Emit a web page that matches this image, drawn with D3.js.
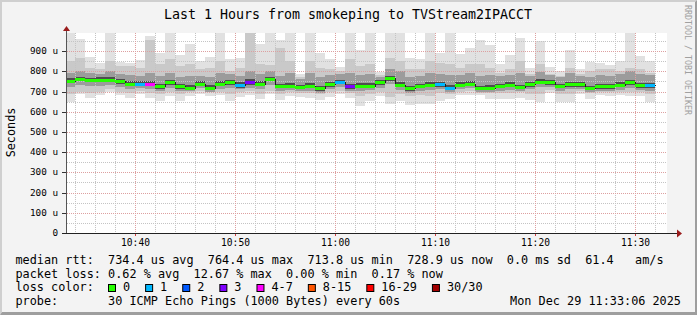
<!DOCTYPE html>
<html>
<head>
<meta charset="utf-8">
<script src="https://cdn.jsdelivr.net/npm/d3@7"></script>
<style>
  body { margin: 0; background: #f3f3f3; }
  svg text { font-family: "DejaVu Sans Mono", monospace; white-space: pre; }
</style>
</head>
<body>
<svg id="chart" width="697" height="315"></svg>
<script>
// one sample per minute, first one starts 10:33, values in microseconds
var firstMinute = "2025-12-29T10:33:00";
var median  = [753,761,758,758,758,751,739,739,739,726,746,726,720,739,720,739,746,731,746,739,761,728,729,723,728,716,736,747,726,728,729,746,766,733,716,728,733,736,720,733,739,718,720,728,733,723,736,749,746,728,736,736,718,726,726,733,747,731,731];
var pingMax = [1010,962,873,840,1010,846,840,855,975,893,1010,880,937,852,873,1010,860,865,1010,937,1010,955,1010,785,1010,893,860,822,1010,904,1010,797,1010,1010,865,860,1010,893,1010,885,918,955,931,835,882,963,815,951,824,802,904,810,848,843,832,852,1010,878,852];
var pingHi1 = [852,868,819,810,852,827,827,819,955,835,860,827,835,810,819,852,802,819,990,835,830,918,852,770,852,819,810,802,860,827,835,782,868,852,810,810,852,843,835,819,835,835,819,794,810,852,785,835,785,777,819,785,802,810,810,802,819,810,794];
var pingHi2 = [790,800,790,785,800,785,780,775,790,775,790,770,775,775,770,790,785,775,800,785,800,775,790,760,790,770,780,785,790,780,785,770,810,800,770,775,790,785,780,780,790,775,780,775,780,790,775,795,780,770,790,775,770,780,775,785,800,785,780];
var pingHi3 = [765,772,768,770,770,762,750,752,752,740,758,738,733,750,732,752,758,745,760,752,772,740,742,735,742,728,748,758,740,742,742,758,778,746,728,740,745,748,733,745,752,730,733,740,745,735,748,760,758,740,748,748,730,738,738,745,758,742,744];
var pingLo3 = [742,750,746,746,748,740,728,728,726,714,734,714,708,728,708,727,734,720,734,727,750,716,717,711,716,704,724,736,714,716,717,734,754,721,704,716,721,724,708,721,727,706,708,716,721,711,724,737,734,716,724,724,706,714,714,721,735,719,719];
var pingLo2 = [725,735,730,728,735,725,715,718,712,705,720,705,705,718,700,715,718,712,720,715,735,705,708,702,705,695,712,722,705,705,708,720,740,710,695,705,710,715,700,712,718,700,700,705,710,702,712,725,722,705,712,715,698,705,705,710,720,708,705];
var pingLo1 = [690,700,695,700,712,700,695,705,695,690,700,690,698,705,700,700,690,698,705,690,705,690,700,695,695,688,700,705,695,680,690,700,675,690,678,685,680,695,690,700,705,695,695,695,695,700,690,690,710,690,690,705,695,700,700,700,700,700,690];
var pingMin = [650,686,670,681,700,681,670,690,670,653,680,653,680,686,678,681,653,673,681,661,686,656,676,673,670,656,673,686,670,627,653,676,637,653,632,640,637,653,661,681,681,684,661,661,665,670,656,650,695,650,650,686,661,681,676,681,676,676,650];
// lost pings out of 30
var loss    = [0,0,0,0,0,0,0,1,4,0,0,0,0,0,0,0,0,1,3,0,0,0,0,0,0,0,0,1,3,0,0,0,0,0,0,0,0,1,1,0,0,0,0,0,0,0,0,0,0,0,0,0,0,0,0,0,0,0,1];

var lossLabels = ["0","1","2","3","4-7","8-15","16-29","30/30"];
var lossColors = ["#26ff00","#00b8ff","#0059ff","#7e00ff","#ff00ff","#ff5500","#ff0000","#a10000"];
var yTicks = [0,100,200,300,400,500,600,700,800,900];

var title = "Last 1 Hours from smokeping to TVStream2IPACCT";
var legendRows = [
  "median rtt:  734.4 us avg  764.4 us max  713.8 us min  728.9 us now  0.0 ms sd  61.4   am/s",
  "packet loss: 0.62 % avg  12.67 % max  0.00 % min  0.17 % now",
  "loss color:",
  "probe:       30 ICMP Echo Pings (1000 Bytes) every 60s"
];
var stamp = "Mon Dec 29 11:33:06 2025";

var W = 697, H = 315;
var pLeft = 67, pRight = 667, pTop = 33, pBottom = 233;

var svg = d3.select("#chart");

// background + rrdtool style shading
svg.append("rect").attr("width", W).attr("height", H).attr("fill", "#f3f3f3");
svg.append("path").attr("d", "M0,0H697L695,2H2V312L0,315Z").attr("fill", "#cfcfcf");
svg.append("path").attr("d", "M697,0V315H0L2,312H695V2Z").attr("fill", "#9e9e9e");
svg.append("rect").attr("x", pLeft).attr("y", pTop).attr("width", pRight - pLeft).attr("height", pBottom - pTop).attr("fill", "#fff");

var t0 = new Date("2025-12-29T10:33:10"), t1 = new Date("2025-12-29T11:33:10");
var x = d3.scaleTime().domain([t0, t1]).rangeRound([pLeft, pRight]);
var y = d3.scaleLinear().domain([0, 990]).rangeRound([pBottom, pTop]);

var start = new Date(firstMinute);
var rows = median.map(function(m, i) {
  return {
    t: d3.timeMinute.offset(start, i),
    t2: d3.timeMinute.offset(start, i + 1),
    med: m, loss: loss[i],
    max: pingMax[i], hi1: pingHi1[i], hi2: pingHi2[i], hi3: pingHi3[i],
    lo3: pingLo3[i], lo2: pingLo2[i], lo1: pingLo1[i], min: pingMin[i]
  };
});

svg.append("clipPath").attr("id", "plot").append("rect")
  .attr("x", pLeft).attr("y", pTop).attr("width", pRight - pLeft).attr("height", pBottom - pTop);

var g = svg.append("g").attr("clip-path", "url(#plot)");

// smoke, outer to inner
var bands = [
  { lo: "min", hi: "max", color: "#e1e1e1" },
  { lo: "lo1", hi: "hi1", color: "#c9c9c9" },
  { lo: "lo2", hi: "hi2", color: "#9c9c9c" },
  { lo: "lo3", hi: "hi3", color: "#4e4e4e" }
];
bands.forEach(function(b) {
  g.append("g").selectAll("rect")
    .data(rows)
    .enter().append("rect")
    .attr("x", function(d) { return x(d.t); })
    .attr("width", function(d) { return x(d.t2) - x(d.t); })
    .attr("y", function(d) { return y(d[b.hi]); })
    .attr("height", function(d) { return y(d[b.lo]) - y(d[b.hi]); })
    .attr("fill", b.color)
    .attr("shape-rendering", "crispEdges");
});

// grid
var minorX = d3.timeMinute.every(2).range(t0, t1).filter(function(d) { return d.getMinutes() % 10 != 0; });
var majorX = d3.timeMinute.every(10).range(t0, t1);
var minorY = d3.range(50, 990, 100);
var majorY = d3.range(100, 990, 100);

function vlines(data, color) {
  g.append("g").selectAll("line").data(data).enter().append("line")
    .attr("x1", function(d) { return x(d) + 0.5; }).attr("x2", function(d) { return x(d) + 0.5; })
    .attr("y1", pTop).attr("y2", pBottom)
    .attr("stroke", color).attr("stroke-dasharray", "1,1");
}
function hlines(data, color) {
  g.append("g").selectAll("line").data(data).enter().append("line")
    .attr("y1", function(d) { return y(d) + 0.5; }).attr("y2", function(d) { return y(d) + 0.5; })
    .attr("x1", pLeft).attr("x2", pRight)
    .attr("stroke", color).attr("stroke-dasharray", "1,1");
}
vlines(minorX, "#c4c4c4");
hlines(minorY, "#c4c4c4");
vlines(majorX, "#dda0a0");
hlines(majorY, "#dda0a0");

// median line, then loss coloured bars on it
var stepData = rows.concat([{ t: rows[rows.length - 1].t2, med: rows[rows.length - 1].med }]);
g.append("path")
  .datum(stepData)
  .attr("fill", "none")
  .attr("stroke", "#202020")
  .attr("stroke-width", 1)
  .attr("shape-rendering", "crispEdges")
  .attr("d", d3.line().curve(d3.curveStepAfter)
    .x(function(d) { return x(d.t) + 0.5; })
    .y(function(d) { return y(d.med) + 0.5; }));

function lossIndex(n) {
  if (n <= 3) return n;
  if (n <= 7) return 4;
  if (n <= 15) return 5;
  if (n <= 29) return 6;
  return 7;
}
g.append("g").selectAll("rect")
  .data(rows)
  .enter().append("rect")
  .attr("x", function(d) { return x(d.t); })
  .attr("width", function(d) { return x(d.t2) - x(d.t); })
  .attr("y", function(d) { return y(d.med) - 1; })
  .attr("height", 3)
  .attr("fill", function(d) { return lossColors[lossIndex(d.loss)]; })
  .attr("shape-rendering", "crispEdges");

// axes
var gy = svg.append("g").attr("transform", "translate(" + (pLeft - 1) + ",0)")
  .call(d3.axisLeft(y).tickValues(yTicks).tickSize(4).tickPadding(4)
    .tickFormat(function(d) { return d === 0 ? "0" : d + " u"; }));
gy.attr("font-family", null).attr("font-size", null);
gy.select(".domain").remove();
gy.selectAll(".tick line").attr("stroke", "#333");
gy.selectAll(".tick text").style("font-size", "9.3px").attr("fill", "#000");

var gx = svg.append("g").attr("transform", "translate(0," + pBottom + ")")
  .call(d3.axisBottom(x).ticks(d3.timeMinute.every(10)).tickFormat(d3.timeFormat("%H:%M"))
    .tickSize(3).tickPadding(3));
gx.attr("font-family", null).attr("font-size", null);
gx.select(".domain").remove();
gx.selectAll(".tick line").attr("stroke", "#d04040");
gx.selectAll(".tick text").style("font-size", "9.6px").attr("fill", "#000");

svg.append("line").attr("x1", pLeft - 0.5).attr("x2", pLeft - 0.5).attr("y1", pBottom + 1).attr("y2", 29)
  .attr("stroke", "#555");
svg.append("line").attr("x1", pLeft - 5).attr("x2", 678).attr("y1", pBottom + 0.5).attr("y2", pBottom + 0.5)
  .attr("stroke", "#222");
svg.append("path").attr("d", "M63,31L66.5,26L70,31Z").attr("fill", "#9a1c1c");
svg.append("path").attr("d", "M677,229.5L682,233.5L677,237.5Z").attr("fill", "#9a1c1c");

// texts
svg.append("text").attr("x", 348).attr("y", 19).attr("text-anchor", "middle")
  .style("font-size", "13.3px").text(title);

svg.append("text").attr("transform", "translate(15,132.5) rotate(-90)").attr("text-anchor", "middle")
  .style("font-size", "11.8px").text("Seconds");

svg.append("text").attr("transform", "translate(685,5) rotate(90)")
  .style("font-size", "8.3px").attr("fill", "#a0a0a0").text("RRDTOOL / TOBI OETIKER");

var rowY = [264, 277.5, 291, 304.5];
svg.selectAll("text.legend").data(legendRows).enter().append("text")
  .attr("class", "legend")
  .attr("x", 15.5).attr("y", function(d, i) { return rowY[i]; })
  .style("font-size", "11.83px").text(function(d) { return d; });

svg.append("text").attr("x", 681).attr("y", rowY[3]).attr("text-anchor", "end")
  .style("font-size", "11.83px").text(stamp);

// loss colour keys
var kx = 108;
lossLabels.forEach(function(lbl, i) {
  svg.append("rect").attr("x", kx + 0.5).attr("y", 284.5).attr("width", 7).attr("height", 7)
    .attr("fill", lossColors[i]).attr("stroke", "#000");
  svg.append("text").attr("x", kx + 15).attr("y", rowY[2]).style("font-size", "11.83px").text(lbl);
  kx += lbl.length * 7.12 + 30;
});
</script>
</body>
</html>
